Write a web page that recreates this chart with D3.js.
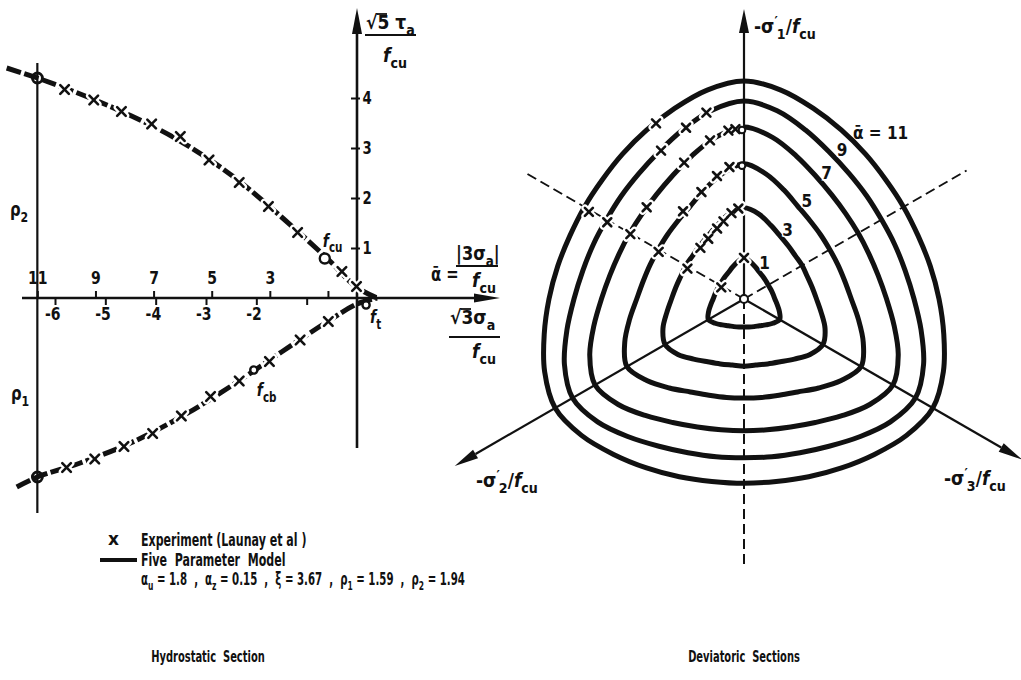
<!DOCTYPE html>
<html>
<head>
<meta charset="utf-8">
<script src="https://cdn.jsdelivr.net/npm/d3@7"></script>
<style>
  body { margin: 0; background: #fff; }
  svg { display: block; }
  text {
    font-family: "DejaVu Sans", "Liberation Sans", sans-serif;
    font-weight: bold;
    fill: #111;
    white-space: pre;
  }
</style>
</head>
<body>
<svg id="chart" width="1021" height="680"></svg>
<script>
// ---------- Hydrostatic section: axis ticks ----------
const sigmaTicks = [-6, -5, -4, -3, -2, -1];      // √3σa/fcu
const alphaTicks = [11, 9, 7, 5, 3, 1];           // ᾱ = |3σa|/fcu
const tauTicks = [1, 2, 3, 4];                    // √5τa/fcu

// model meridians, points as [√3σa/fcu, √5τa/fcu]
const rho2Model = [[-6.96, 4.60], [-6.35, 4.40], [-5.5, 4.08], [-4.5, 3.65], [-3.5, 3.13],
                   [-2.5, 2.46], [-1.5, 1.62], [-0.6, 0.80], [0, 0.21], [0.40, 0]];
const rho1Model = [[-6.76, -3.78], [-6.35, -3.58], [-5.5, -3.30], [-4.5, -2.90], [-3.5, -2.38],
                   [-2.5, -1.76], [-1.5, -1.08], [-0.6, -0.48], [0, -0.12], [0.40, 0]];

// test results (Launay et al.)
const rho2Tests = [[-5.81, 4.17], [-5.23, 3.96], [-4.68, 3.73], [-4.08, 3.48], [-3.51, 3.23],
                   [-2.94, 2.76], [-2.34, 2.31], [-1.76, 1.83], [-1.18, 1.31], [-0.30, 0.53], [-0.01, 0.23]];
const rho1Tests = [[-5.77, -3.39], [-5.21, -3.22], [-4.63, -2.97], [-4.06, -2.71], [-3.49, -2.36],
                   [-2.91, -1.97], [-2.34, -1.66], [-1.74, -1.27], [-1.13, -0.84], [-0.57, -0.47]];

// meridian ends at ᾱ = 11 and the strength points fcu, fcb, ft
const meridianEnds = [[-6.35, 4.40], [-6.35, -3.58]];
const strengthNames = ["fcu", "fcb", "ft"];
const strengthPoints = [[-0.64, 0.79], [-2.05, -1.44], [0.18, -0.14]];

// ---------- Deviatoric sections ----------
const contourAlpha = [1, 3, 5, 7, 9, 11];
const lodeSteps = [0, 10, 20, 30, 40, 50, 60];   // degrees from the compressive meridian
const contourRadii = [
  [0.84, 0.77, 0.69, 0.63, 0.60, 0.58, 0.57],
  [1.86, 1.76, 1.60, 1.48, 1.41, 1.37, 1.37],
  [2.76, 2.59, 2.37, 2.19, 2.09, 2.04, 2.02],
  [3.51, 3.35, 3.11, 2.91, 2.78, 2.71, 2.69],
  [4.04, 3.90, 3.67, 3.47, 3.34, 3.27, 3.24],
  [4.45, 4.33, 4.14, 3.98, 3.86, 3.78, 3.76]
];
// tests in the deviatoric plane: [angle from -σ1' axis (deg, anticlockwise), radius]
const devTests = [
  [[0, 0.84], [63, 0.52]],
  [[3.6, 1.85], [8.3, 1.77], [14.8, 1.64], [20.9, 1.54], [30.7, 1.43], [40.5, 1.37], [61.8, 1.31]],
  [[6.3, 2.71], [12.4, 2.57], [21.7, 2.35], [34.8, 2.18], [61.1, 1.99]],
  [[2.9, 3.47], [5.3, 3.45], [12.1, 3.31], [23.7, 3.04], [46.7, 2.73], [60.3, 2.67]],
  [[11.4, 3.88], [18.7, 3.69], [29.2, 3.47], [60.7, 3.20]],
  [[26.6, 4.01], [60.7, 3.63]]
];
const devUniaxial = [[0, 3.45], [0, 2.72]];

// legend / parameter text
const modelParams = [["α", "u", " = 1.8  ,  "], ["α", "z", " = 0.15  ,  "], ["ξ", "", " = 3.67  ,  "],
                     ["ρ", "1", " = 1.59  ,  "], ["ρ", "2", " = 1.94"]];

// =====================================================================
const svg = d3.select("#chart");
const ink = "#111";
const SX = 0.78;   // horizontal condensing of the lettering

// rich text helper: parts = [string, "n" | "sub" | "sup", dx?]
function rich(parent, x, y, parts, size, opts = {}) {
  const sx = opts.sx || SX;
  const g = parent.append("g").attr("transform", `translate(${x},${y}) scale(${sx},1)`);
  const t = g.append("text").attr("x", 0).attr("y", 0).attr("font-size", size);
  if (opts.anchor) t.attr("text-anchor", opts.anchor);
  if (opts.dy) t.attr("dy", opts.dy);
  if (opts.halo) t.attr("stroke", "#fff").attr("stroke-width", opts.halo).attr("paint-order", "stroke");
  let shift = 0;
  parts.forEach(([s, kind, dx]) => {
    const target = kind === "sub" ? size * 0.32 : kind === "sup" ? -size * 0.38 : 0;
    const sp = t.append("tspan").text(s).attr("dy", target - shift);
    if (kind !== "n") sp.attr("font-size", size * 0.74);
    if (dx) sp.attr("dx", dx);
    if (s === "f") sp.attr("font-style", "italic");
    shift = target;
  });
  return g;
}

function drawCross(g, px, py, halo, s) {
  [[-s, -s, s, s], [-s, s, s, -s]].forEach(([a, b, c, d]) => {
    g.append("line").attr("x1", px + a).attr("y1", py + b).attr("x2", px + c).attr("y2", py + d)
      .attr("stroke", halo ? "#fff" : ink).attr("stroke-width", halo ? 7 : 2.6).attr("stroke-linecap", "round");
  });
}

// ---------------- Hydrostatic section ----------------
const x = d3.scaleLinear().domain([-6, 0]).range([55, 357]);
const y = d3.scaleLinear().domain([0, 4]).range([298, 98]);
const alphaScale = d3.scaleLinear().domain([0, 6 * Math.sqrt(3)]).range([x(0), x(-6)]);

const left = svg.append("g");

// ᾱ = 11 section line
left.append("line").attr("x1", alphaScale(11)).attr("x2", alphaScale(11))
  .attr("y1", 63).attr("y2", 513).attr("stroke", ink).attr("stroke-width", 2.2);

// axes lines with arrows
left.append("line").attr("x1", 22).attr("x2", 480).attr("y1", y(0)).attr("y2", y(0))
  .attr("stroke", ink).attr("stroke-width", 2.6);
left.append("path").attr("d", `M${500},${y(0)} L${474},${y(0) - 4.5} L${474},${y(0) + 4.5} Z`).attr("fill", ink);
left.append("line").attr("x1", x(0)).attr("x2", x(0)).attr("y1", 448).attr("y2", 28)
  .attr("stroke", ink).attr("stroke-width", 2.6);
left.append("path").attr("d", `M${x(0)},8 L${x(0) - 5},34 L${x(0) + 5},34 Z`).attr("fill", ink);

function styleAxis(g, size) {
  g.attr("font-family", null).attr("font-size", null);
  g.select(".domain").remove();
  g.selectAll(".tick line").attr("stroke", ink).attr("stroke-width", 2);
  g.selectAll(".tick text").attr("font-size", size).attr("fill", ink).attr("transform", `scale(${SX},1)`);
}

const gBottom = left.append("g").attr("transform", `translate(0,${y(0)})`)
  .call(d3.axisBottom(x).tickValues(sigmaTicks).tickSize(7).tickPadding(2)
    .tickFormat(d => d === -1 ? "" : "-" + Math.abs(d)));
styleAxis(gBottom, 18);
gBottom.selectAll(".tick text").attr("dx", "-0.2em");

const gTop = left.append("g").attr("transform", `translate(0,${y(0)})`)
  .call(d3.axisTop(alphaScale).tickValues(alphaTicks).tickSize(7).tickPadding(7)
    .tickFormat(d => d === 1 ? "" : d));
styleAxis(gTop, 18);

const gV = left.append("g").attr("transform", `translate(${x(0)},0)`)
  .call(d3.axisRight(y).tickValues(tauTicks).tickSize(3).tickPadding(4).tickFormat(d3.format("d")));
styleAxis(gV, 17);
gV.selectAll(".tick line").attr("x1", -6);

// meridians
const meridian = d3.line().x(d => x(d[0])).y(d => y(d[1])).curve(d3.curveCatmullRom.alpha(0.5));
[rho2Model, rho1Model].forEach(m => {
  left.append("path").attr("d", meridian(m)).attr("fill", "none").attr("stroke", ink)
    .attr("stroke-width", 5).attr("stroke-dasharray", "15,3.5").attr("stroke-linecap", "butt");
});

// tests
const allLeftTests = rho2Tests.concat(rho1Tests);
allLeftTests.forEach(d => drawCross(left, x(d[0]), y(d[1]), true, 4.3));
allLeftTests.forEach(d => drawCross(left, x(d[0]), y(d[1]), false, 4.3));

// circles
meridianEnds.forEach(d => {
  left.append("circle").attr("cx", x(d[0])).attr("cy", y(d[1])).attr("r", 5)
    .attr("fill", "none").attr("stroke", ink).attr("stroke-width", 2.8);
});
strengthPoints.forEach((d, i) => {
  left.append("circle").attr("cx", x(d[0])).attr("cy", y(d[1])).attr("r", i === 0 ? 5 : 3.6)
    .attr("fill", "#fff").attr("stroke", ink).attr("stroke-width", 2.4);
});
const strengthLabelOffset = [[-2, -12], [3, 26], [4, 18]];
strengthPoints.forEach((d, i) => {
  const nm = strengthNames[i];
  rich(left, x(d[0]) + strengthLabelOffset[i][0], y(d[1]) + strengthLabelOffset[i][1],
    [["f", "n"], [nm.slice(1), "sub"]], 18);
});

// meridian names
rich(left, 10, 216, [["ρ", "n"], ["2", "sub"]], 19);
rich(left, 11, 400, [["ρ", "n"], ["1", "sub"]], 19);

// axis titles
rich(left, 366, 29, [["√", "n"], ["5", "n"], [" τ", "n"], ["a", "sub"]], 19, { sx: 0.9 });
left.append("line").attr("x1", 377).attr("x2", 387).attr("y1", 14).attr("y2", 14).attr("stroke", ink).attr("stroke-width", 1.8);
left.append("line").attr("x1", 365).attr("x2", 416).attr("y1", 35).attr("y2", 35).attr("stroke", ink).attr("stroke-width", 2);
rich(left, 383, 62, [["f", "n"], ["cu", "sub"]], 19, { sx: 0.9 });

rich(left, 431, 281, [["ᾱ", "n"], [" =", "n"]], 19);
rich(left, 456, 260, [["|3σ", "n"], ["a", "sub"], ["|", "n"]], 19, { sx: 0.85 });
left.append("line").attr("x1", 456).attr("x2", 498).attr("y1", 266).attr("y2", 266).attr("stroke", ink).attr("stroke-width", 2);
rich(left, 472, 287, [["f", "n"], ["cu", "sub"]], 19, { sx: 0.9 });

rich(left, 450, 324, [["√", "n"], ["3", "n"], ["σ", "n"], ["a", "sub"]], 19, { sx: 0.9 });
left.append("line").attr("x1", 461).attr("x2", 471).attr("y1", 309).attr("y2", 309).attr("stroke", ink).attr("stroke-width", 1.8);
left.append("line").attr("x1", 449).attr("x2", 500).attr("y1", 337).attr("y2", 337).attr("stroke", ink).attr("stroke-width", 2);
rich(left, 472, 358, [["f", "n"], ["cu", "sub"]], 19, { sx: 0.9 });

// legend
const lg = svg.append("g");
rich(lg, 108, 545, [["x", "n"]], 17, { sx: 1 });
rich(lg, 141, 546, [["Experiment (Launay et al )", "n"]], 17, { sx: 0.65 });
lg.append("line").attr("x1", 100).attr("x2", 137).attr("y1", 560).attr("y2", 560).attr("stroke", ink).attr("stroke-width", 4);
rich(lg, 141, 566, [["Five  Parameter  Model", "n"]], 17, { sx: 0.65 });
const pParts = [];
modelParams.forEach(([sym, sub, rest]) => {
  pParts.push([sym, "n"]);
  if (sub) pParts.push([sub, "sub"]);
  pParts.push([rest, "n"]);
});
rich(lg, 141, 585, pParts, 17, { sx: 0.6 });

rich(svg, 208, 662, [["Hydrostatic  Section", "n"]], 16, { anchor: "middle", sx: 0.62 });
rich(svg, 744, 662, [["Deviatoric  Sections", "n"]], 16, { anchor: "middle", sx: 0.62 });

// ---------------- Deviatoric sections ----------------
const cx = 744, cy = 299;
const rScale = d3.scaleLinear().domain([0, 1]).range([0, 49]);
const right = svg.append("g");
function polar(angDeg, r, extra = 0) {
  const a = angDeg * Math.PI / 180;
  const len = rScale(r) + extra;
  return [cx - len * Math.sin(a), cy - len * Math.cos(a)];
}
function polarPx(angDeg, len) {
  const a = angDeg * Math.PI / 180;
  return [cx - len * Math.sin(a), cy - len * Math.cos(a)];
}

// tensile meridian directions (dashed)
[[60, 250], [300, 257], [180, 266]].forEach(([ang, len]) => {
  const p = polarPx(ang, len);
  right.append("line").attr("x1", cx).attr("y1", cy).attr("x2", p[0]).attr("y2", p[1])
    .attr("stroke", ink).attr("stroke-width", 2).attr("stroke-dasharray", "10,5");
});
// principal stress axes
[[0, 290], [120, 334], [240, 321]].forEach(([ang, len]) => {
  const tip = polarPx(ang, len);
  const base = polarPx(ang, len - 24);
  right.append("line").attr("x1", cx).attr("y1", cy).attr("x2", base[0]).attr("y2", base[1])
    .attr("stroke", ink).attr("stroke-width", 2.2);
  const a = ang * Math.PI / 180;
  const nx = Math.cos(a), ny = -Math.sin(a);
  right.append("path").attr("d",
    `M${tip[0]},${tip[1]} L${base[0] + 5 * nx},${base[1] + 5 * ny} L${base[0] - 5 * nx},${base[1] - 5 * ny} Z`)
    .attr("fill", ink);
});

// contours
const contour = d3.line().curve(d3.curveCatmullRomClosed.alpha(0.5));
contourRadii.forEach(radii => {
  const pts = d3.range(0, 360, 10).map(psi => {
    const d = psi % 120;
    const tc = d <= 60 ? d : 120 - d;
    return polar(psi, radii[lodeSteps.indexOf(tc)]);
  });
  right.append("path").attr("d", contour(pts)).attr("fill", "none")
    .attr("stroke", ink).attr("stroke-width", 5);
});

// test marks
devTests.forEach(set => set.forEach(d => { const p = polar(d[0], d[1]); drawCross(right, p[0], p[1], true, 4); }));
devTests.forEach(set => set.forEach(d => { const p = polar(d[0], d[1]); drawCross(right, p[0], p[1], false, 4); }));
devUniaxial.forEach(d => {
  const p = polar(d[0], d[1]);
  right.append("circle").attr("cx", p[0] - 2).attr("cy", p[1]).attr("r", 3.3)
    .attr("fill", "#fff").attr("stroke", ink).attr("stroke-width", 2);
});
right.append("circle").attr("cx", cx).attr("cy", cy).attr("r", 4)
  .attr("fill", "#fff").attr("stroke", ink).attr("stroke-width", 2);

// contour labels beside the curves
const labelAngle = 34.5;
contourRadii.forEach((radii, i) => {
  const k = Math.floor(labelAngle / 10), f = (labelAngle - k * 10) / 10;
  const r = radii[k] + f * (radii[k + 1] - radii[k]);
  const a = contourAlpha[i];
  if (a === 11) {
    rich(right, 853, 139, [["ᾱ", "n"], [" = 11", "n"]], 18, { sx: 0.85 });
  } else {
    const p = polar(-labelAngle, r, 6);
    rich(right, p[0], p[1], [[String(a), "n"]], 18, { anchor: "middle", dy: "0.36em", halo: 3, sx: 0.85 });
  }
});

// axis names
rich(right, 754, 33, [["-σ", "n"], ["′", "sup"], ["1", "sub", -1], ["/", "n"], ["f", "n"], ["cu", "sub"]], 19, { sx: 0.9 });
rich(right, 476, 487, [["-σ", "n"], ["′", "sup"], ["2", "sub", -1], ["/", "n"], ["f", "n"], ["cu", "sub"]], 19, { sx: 0.9 });
rich(right, 944, 485, [["-σ", "n"], ["′", "sup"], ["3", "sub", -1], ["/", "n"], ["f", "n"], ["cu", "sub"]], 19, { sx: 0.9 });
</script>
</body>
</html>
